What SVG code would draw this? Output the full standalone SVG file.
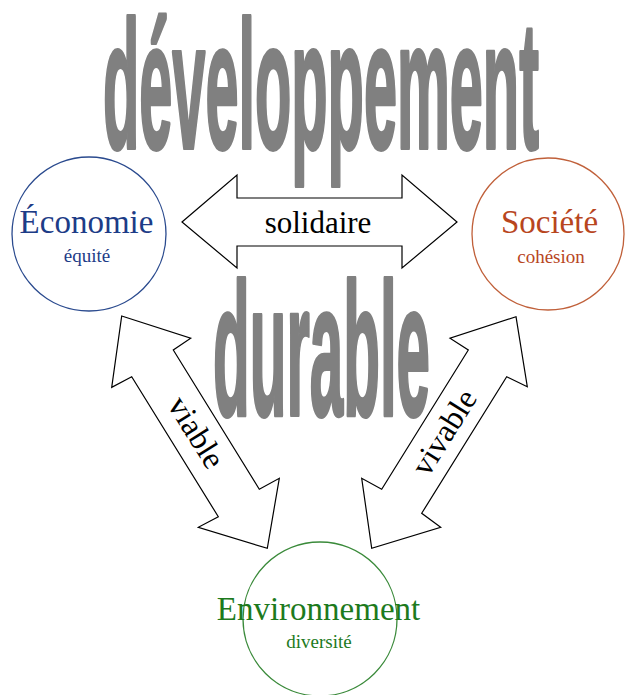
<svg xmlns="http://www.w3.org/2000/svg" width="625" height="695" viewBox="0 0 625 695">
<style>
.big{font-family:"Liberation Sans",Arial,sans-serif;font-weight:bold;fill:#808080;stroke:#808080;stroke-width:3;stroke-linejoin:round;vector-effect:non-scaling-stroke}
.lbl{font-family:"Liberation Serif","Times New Roman",serif;text-anchor:middle}
.main{font-size:33px}
.sub{font-size:19px}
.arrow{fill:#ffffff;stroke:#000000;stroke-width:1.2;stroke-linejoin:miter}
.circ{fill:none;stroke-width:1.3}
</style>
<rect width="625" height="695" fill="#ffffff"/>
<g id="titre">
<text class="big" font-size="182" transform="translate(103,148) scale(0.3266,1)">développement</text>
<text class="big" font-size="189" transform="translate(213,415) scale(0.3179,1)">durable</text>
</g>
<g id="connecteurs">
<g id="solidaire">
<polygon class="arrow" points="182,222 237,175 237,198 402,198 402,175 457,222 402,268 402,246 237,246 237,268"/>
<text class="lbl" x="318" y="233" font-size="31">solidaire</text>
</g>
<g id="viable">
<polygon class="arrow" points="121.7,316 190.7,338.3 173.3,350 259.3,489.3 279.3,478.3 267.3,548.3 198.3,527.3 218.3,516.7 131.7,376.7 111.7,387.3"/>
<text class="lbl" font-size="32" transform="translate(187.4,438) rotate(58)">viable</text>
</g>
<g id="vivable">
<polygon class="arrow" points="516,316.7 527.3,386.7 506.7,376.7 421.7,513.3 440.7,527.3 371.7,548.3 361.7,478.3 381.7,489.3 468.3,350 450,338.3"/>
<text class="lbl" font-size="32" transform="translate(453,438) rotate(-58)">vivable</text>
</g>
</g>
<g id="economie">
<circle class="circ" cx="89" cy="234" r="77" stroke="#2a4a8e"/>
<text class="lbl main" x="86.5" y="233" fill="#1d3c87">Économie</text>
<text class="lbl sub" x="87" y="262" fill="#1d3c87">équité</text>
</g>
<g id="societe">
<circle class="circ" cx="548" cy="234" r="76" stroke="#c0603a"/>
<text class="lbl main" x="549.5" y="233" fill="#b8461e">Société</text>
<text class="lbl sub" x="551" y="263" fill="#b8461e">cohésion</text>
</g>
<g id="environnement">
<circle class="circ" cx="320" cy="619" r="77" stroke="#3a8a3a"/>
<text class="lbl main" x="318.5" y="620" fill="#1d7a1d">Environnement</text>
<text class="lbl sub" x="319" y="648" fill="#1d7a1d">diversité</text>
</g>
</svg>
